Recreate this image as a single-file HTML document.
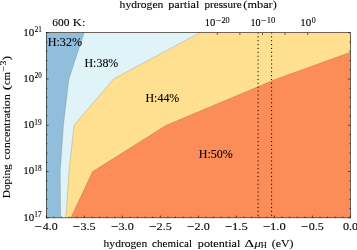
<!DOCTYPE html>
<html><head><meta charset="utf-8"><title>plot</title>
<style>html,body{margin:0;padding:0;background:#fff}svg{display:block}text{font-family:"Liberation Serif",serif;fill:#000;stroke:#000;stroke-width:0.1px}</style>
</head><body>
<svg width="357" height="250" viewBox="0 0 357 250">
<rect width="357" height="250" fill="#fff"/>
<rect x="46.3" y="32.7" width="304.09999999999997" height="185.14999999999998" fill="#fc8d59"/>
<polygon points="46.30,32.70 350.40,32.70 350.40,52.30 276.30,78.99 166.20,125.27 92.60,171.56 70.80,217.85 46.30,217.85" fill="#fee090"/>
<polygon points="46.30,32.70 199.70,32.70 113.60,78.99 74.00,125.27 69.00,171.56 65.80,217.85 46.30,217.85" fill="#e0f3f8"/>
<polygon points="46.30,32.70 84.20,32.70 68.90,78.99 63.40,125.27 60.20,171.56 60.60,217.85 46.30,217.85" fill="#91bfdb"/>
<polyline points="84.20,32.70 68.90,78.99 63.40,125.27 60.20,171.56 60.60,217.85" fill="none" stroke="#333" stroke-opacity="0.45" stroke-width="0.4"/>
<polyline points="199.70,32.70 113.60,78.99 74.00,125.27 69.00,171.56 65.80,217.85" fill="none" stroke="#333" stroke-opacity="0.45" stroke-width="0.4"/>
<polyline points="350.40,52.30 276.30,78.99 166.20,125.27 92.60,171.56 70.80,217.85" fill="none" stroke="#333" stroke-opacity="0.45" stroke-width="0.4"/>
<line x1="258.1" y1="32.7" x2="258.1" y2="217.85" stroke="#000" stroke-width="1" stroke-dasharray="1.1 2.78" stroke-dashoffset="0.32"/>
<line x1="271.6" y1="32.7" x2="271.6" y2="217.85" stroke="#000" stroke-width="1" stroke-dasharray="1.1 2.78" stroke-dashoffset="0.32"/>
<path d="M46.30,217.85v-2.3 M53.90,217.85v-1.2 M61.50,217.85v-1.2 M69.11,217.85v-1.2 M76.71,217.85v-1.2 M84.31,217.85v-2.3 M91.91,217.85v-1.2 M99.52,217.85v-1.2 M107.12,217.85v-1.2 M114.72,217.85v-1.2 M122.32,217.85v-2.3 M129.93,217.85v-1.2 M137.53,217.85v-1.2 M145.13,217.85v-1.2 M152.73,217.85v-1.2 M160.34,217.85v-2.3 M167.94,217.85v-1.2 M175.54,217.85v-1.2 M183.14,217.85v-1.2 M190.75,217.85v-1.2 M198.35,217.85v-2.3 M205.95,217.85v-1.2 M213.55,217.85v-1.2 M221.16,217.85v-1.2 M228.76,217.85v-1.2 M236.36,217.85v-2.3 M243.96,217.85v-1.2 M251.57,217.85v-1.2 M259.17,217.85v-1.2 M266.77,217.85v-1.2 M274.37,217.85v-2.3 M281.98,217.85v-1.2 M289.58,217.85v-1.2 M297.18,217.85v-1.2 M304.79,217.85v-1.2 M312.39,217.85v-2.3 M319.99,217.85v-1.2 M327.59,217.85v-1.2 M335.19,217.85v-1.2 M342.80,217.85v-1.2 M350.40,217.85v-2.3 M217.30,32.7v2.2 M239.90,32.7v2.2 M262.50,32.7v2.2 M285.10,32.7v2.2 M307.70,32.7v2.2 M46.3,32.70h2.3 M350.4,32.70h-2.3 M46.3,41.96h1.2 M350.4,41.96h-1.2 M46.3,51.22h1.2 M350.4,51.22h-1.2 M46.3,60.47h1.2 M350.4,60.47h-1.2 M46.3,69.73h1.2 M350.4,69.73h-1.2 M46.3,78.99h2.3 M350.4,78.99h-2.3 M46.3,88.25h1.2 M350.4,88.25h-1.2 M46.3,97.50h1.2 M350.4,97.50h-1.2 M46.3,106.76h1.2 M350.4,106.76h-1.2 M46.3,116.02h1.2 M350.4,116.02h-1.2 M46.3,125.27h2.3 M350.4,125.27h-2.3 M46.3,134.53h1.2 M350.4,134.53h-1.2 M46.3,143.79h1.2 M350.4,143.79h-1.2 M46.3,153.05h1.2 M350.4,153.05h-1.2 M46.3,162.30h1.2 M350.4,162.30h-1.2 M46.3,171.56h2.3 M350.4,171.56h-2.3 M46.3,180.82h1.2 M350.4,180.82h-1.2 M46.3,190.08h1.2 M350.4,190.08h-1.2 M46.3,199.33h1.2 M350.4,199.33h-1.2 M46.3,208.59h1.2 M350.4,208.59h-1.2 M46.3,217.85h2.3 M350.4,217.85h-2.3" stroke="#000" stroke-width="0.6" fill="none"/>
<rect x="46.3" y="32.7" width="304.09999999999997" height="185.14999999999998" fill="none" stroke="#000" stroke-width="0.55"/>
<text transform="translate(119.60,8.40) scale(1.0537,1)" font-size="11">hydrogen</text>
<text transform="translate(168.20,8.40) scale(1.1120,1)" font-size="11">partial</text>
<text transform="translate(204.52,8.40) scale(1.0138,1)" font-size="11">pressure</text>
<text transform="translate(243.37,8.40) scale(1.1178,1)" font-size="11">(mbar)</text>
<text transform="translate(52.32,26.30) scale(1.0371,1)" font-size="11">600</text>
<text transform="translate(72.74,26.30) scale(1.1529,1)" font-size="11">K:</text>
<text transform="translate(204.78,26.40) scale(1.0319,1)" font-size="10.3">10</text>
<text transform="translate(215.71,23.00) scale(1.3242,1)" font-size="7.6">−</text>
<text transform="translate(221.44,23.00) scale(1.0881,1)" font-size="7.6">20</text>
<text transform="translate(250.52,26.40) scale(0.9875,1)" font-size="10.3">10</text>
<text transform="translate(261.12,23.00) scale(1.2961,1)" font-size="7.6">−</text>
<text transform="translate(266.75,23.00) scale(1.1278,1)" font-size="7.6">10</text>
<text transform="translate(300.25,26.40) scale(1.0652,1)" font-size="10.3">10</text>
<text transform="translate(311.70,23.00) scale(1.0551,1)" font-size="7.6">0</text>
<text transform="translate(23.25,35.50) scale(1.0652,1)" font-size="10.3">10</text>
<text transform="translate(34.69,32.20) scale(0.9388,1)" font-size="7.6">21</text>
<text transform="translate(23.25,81.79) scale(1.0652,1)" font-size="10.3">10</text>
<text transform="translate(34.70,78.49) scale(0.9163,1)" font-size="7.6">20</text>
<text transform="translate(23.25,128.07) scale(1.0652,1)" font-size="10.3">10</text>
<text transform="translate(34.36,124.77) scale(0.9657,1)" font-size="7.6">19</text>
<text transform="translate(23.25,174.36) scale(1.0652,1)" font-size="10.3">10</text>
<text transform="translate(34.36,171.06) scale(0.9624,1)" font-size="7.6">18</text>
<text transform="translate(23.25,220.65) scale(1.0652,1)" font-size="10.3">10</text>
<text transform="translate(34.37,217.35) scale(0.9515,1)" font-size="7.6">17</text>
<text transform="translate(35.11,229.50) scale(1.2682,1)" font-size="10.3">−</text>
<text transform="translate(42.82,229.50) scale(1.1556,1)" font-size="10.3">4.0</text>
<text transform="translate(73.12,229.50) scale(1.2682,1)" font-size="10.3">−</text>
<text transform="translate(80.49,229.50) scale(1.1844,1)" font-size="10.3">3.5</text>
<text transform="translate(111.13,229.50) scale(1.2682,1)" font-size="10.3">−</text>
<text transform="translate(118.50,229.50) scale(1.1834,1)" font-size="10.3">3.0</text>
<text transform="translate(149.15,229.50) scale(1.2682,1)" font-size="10.3">−</text>
<text transform="translate(156.56,229.50) scale(1.1803,1)" font-size="10.3">2.5</text>
<text transform="translate(187.16,229.50) scale(1.2682,1)" font-size="10.3">−</text>
<text transform="translate(194.58,229.50) scale(1.1793,1)" font-size="10.3">2.0</text>
<text transform="translate(225.17,229.50) scale(1.2682,1)" font-size="10.3">−</text>
<text transform="translate(232.01,229.50) scale(1.2265,1)" font-size="10.3">1.5</text>
<text transform="translate(263.18,229.50) scale(1.2682,1)" font-size="10.3">−</text>
<text transform="translate(270.03,229.50) scale(1.2255,1)" font-size="10.3">1.0</text>
<text transform="translate(301.20,229.50) scale(1.2682,1)" font-size="10.3">−</text>
<text transform="translate(308.68,229.50) scale(1.1753,1)" font-size="10.3">0.5</text>
<text transform="translate(342.94,229.50) scale(1.1743,1)" font-size="10.3">0.0</text>
<text transform="translate(103.60,246.90) scale(1.0489,1)" font-size="11">hydrogen</text>
<text transform="translate(152.08,246.90) scale(1.0061,1)" font-size="11">chemical</text>
<text transform="translate(197.81,246.90) scale(1.1078,1)" font-size="11">potential</text>
<text transform="translate(271.69,246.90) scale(1.0830,1)" font-size="11">(eV)</text>
<text transform="translate(244.54,246.90) scale(1.3444,1)" font-size="11">Δ</text>
<text transform="translate(254.41,246.90) scale(1.1412,1)" font-size="11" font-style="italic">μ</text>
<text transform="translate(260.87,248.20) scale(1.0882,1)" font-size="7.6">H</text>
<text transform="translate(9.7,198.1) rotate(-90) translate(-0.22,0.00) scale(1.0344,1)" font-size="11">Doping</text>
<text transform="translate(9.7,198.1) rotate(-90) translate(38.44,0.00) scale(1.0931,1)" font-size="11">concentration</text>
<text transform="translate(9.7,198.1) rotate(-90) translate(107.82,0.00) scale(1.4447,1)" font-size="11">(</text>
<text transform="translate(9.7,198.1) rotate(-90) translate(113.20,0.00) scale(0.9643,1)" font-size="11">cm</text>
<text transform="translate(9.7,198.1) rotate(-90) translate(126.40,-3.90) scale(1.3524,1)" font-size="7.6">−</text>
<text transform="translate(9.7,198.1) rotate(-90) translate(132.65,-3.90) scale(1.2713,1)" font-size="7.6">3</text>
<text transform="translate(9.7,198.1) rotate(-90) translate(137.88,0.00) scale(1.1980,1)" font-size="11">)</text>
<text transform="translate(47.76,46.00) scale(1.0105,1)" font-size="12">H:32%</text>
<text transform="translate(84.47,66.50) scale(0.9954,1)" font-size="12">H:38%</text>
<text transform="translate(145.47,102.00) scale(0.9954,1)" font-size="12">H:44%</text>
<text transform="translate(198.76,157.50) scale(1.0014,1)" font-size="12">H:50%</text>
</svg>
</body></html>
